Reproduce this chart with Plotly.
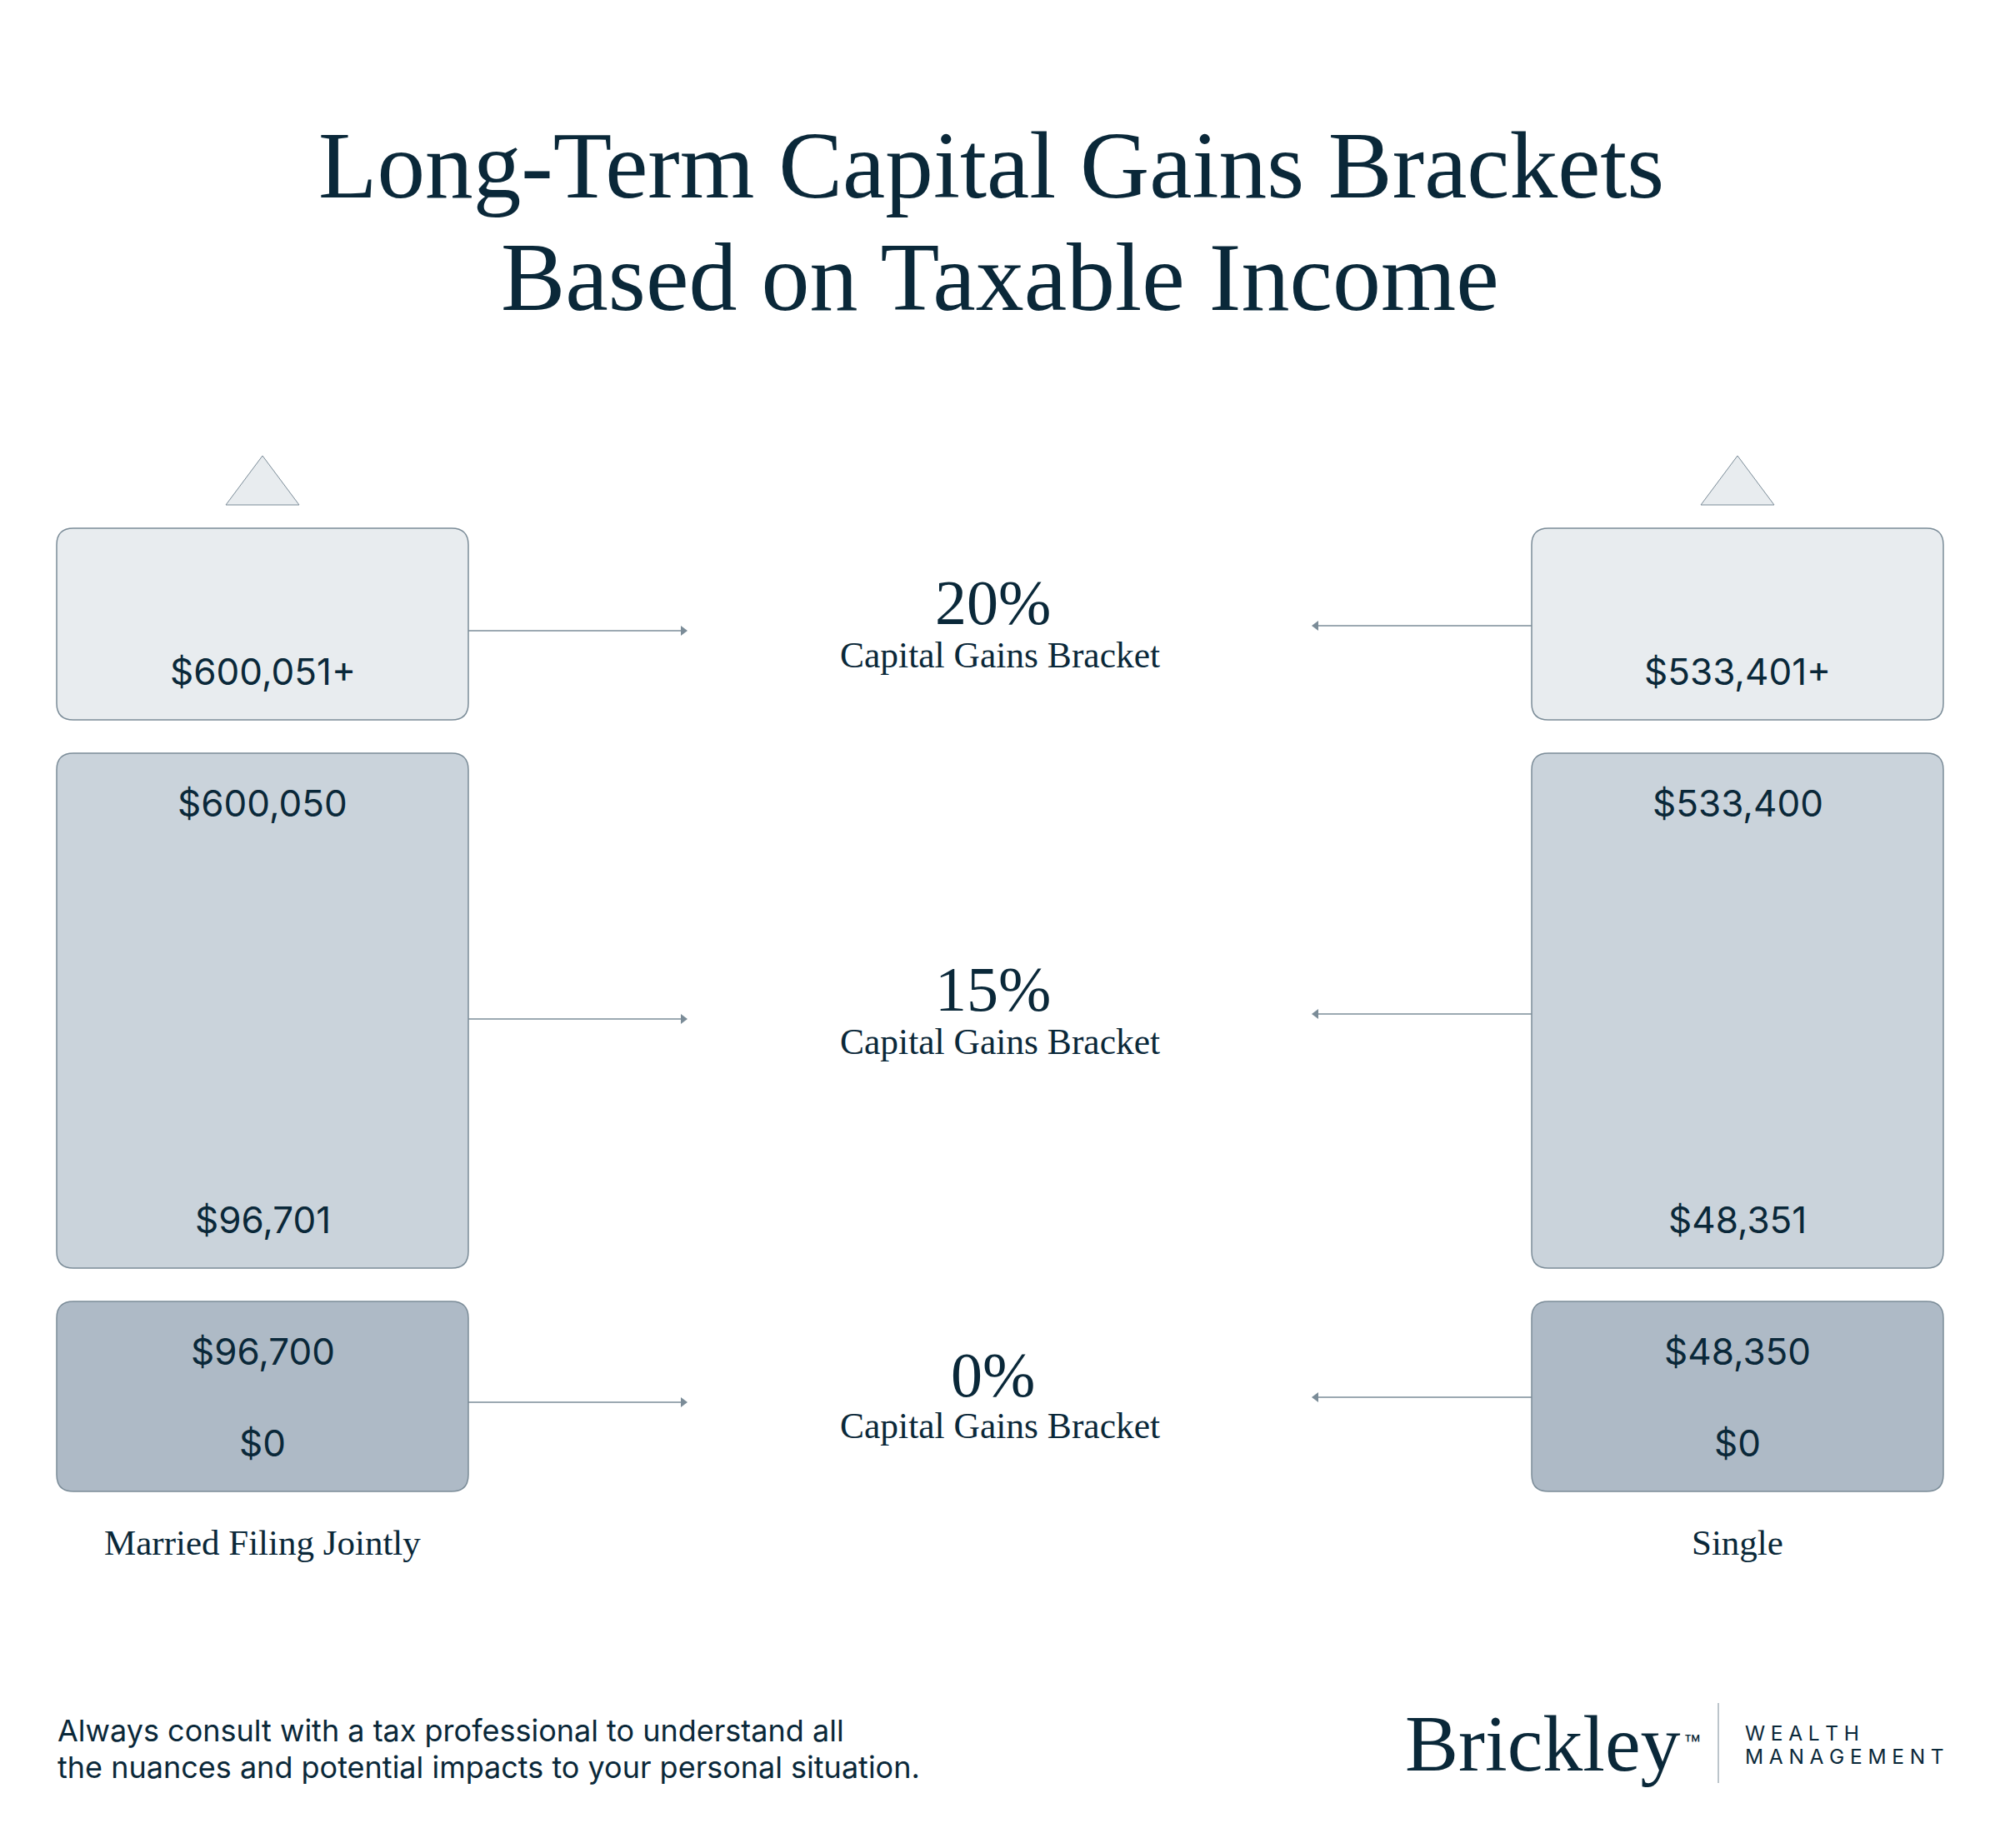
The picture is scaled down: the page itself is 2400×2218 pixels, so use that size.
import plotly.graph_objects as go

# text
title_lines = ["Long-Term Capital Gains Brackets", "Based on Taxable Income"]
rates = ["20%", "15%", "0%"]
rate_caption = "Capital Gains Bracket"
filers = ["Married Filing Jointly", "Single"]
married_upper = ["", "$600,050", "$96,700"]
married_lower = ["$600,051+", "$96,701", "$0"]
single_upper = ["", "$533,400", "$48,350"]
single_lower = ["$533,401+", "$48,351", "$0"]
footnote = [
    "Always consult with a tax professional to understand all",
    "the nuances and potential impacts to your personal situation.",
]

# layout of the page, in pixels
W, H = 2400, 2218
NAVY = "#0a2839"
EDGE = "#7b8c98"
SERIF = "Liberation Serif"
SANS = "Inter"
fills = ["#e8ecef", "#cad3db", "#aebac6"]
box_top = [634, 904, 1562]
box_bottom = [864, 1522, 1790]
columns = [(68, 562), (1838, 2332)]
arrow_y = [[757, 1223, 1683], [751, 1217, 1677]]
arrow_tip = [825, 1574]
upper_y = [0, 964, 1622]
lower_y = [806, 1464, 1732]
rate_y = [723, 1187, 1650]
caption_y = [786, 1250, 1711]


def rounded_box(x0, y0, x1, y1, r=20):
    return (
        f"M{x0 + r},{y0} L{x1 - r},{y0} Q{x1},{y0} {x1},{y0 + r} "
        f"L{x1},{y1 - r} Q{x1},{y1} {x1 - r},{y1} "
        f"L{x0 + r},{y1} Q{x0},{y1} {x0},{y1 - r} "
        f"L{x0},{y0 + r} Q{x0},{y0} {x0 + r},{y0} Z"
    )


def add_text(fig, x, y, text, size, font=SANS, anchor="center"):
    fig.add_annotation(
        x=x, y=y, text=text, showarrow=False, xanchor=anchor, yanchor="middle",
        font=dict(family=font, size=size, color=NAVY),
    )


def spaced(word):
    # letter spacing for the logo, thin plus hair space between letters
    return "\u2009\u200a".join(word)


fig = go.Figure()

for c, (left, right) in enumerate(columns):
    mid = (left + right) / 2
    upper = married_upper if c == 0 else single_upper
    lower = married_lower if c == 0 else single_lower

    # triangle above the column
    fig.add_shape(
        type="path",
        path=f"M{mid},547 L{mid + 44},606 L{mid - 44},606 Z",
        fillcolor=fills[0], line=dict(color=EDGE, width=1),
    )

    for i in range(3):
        fig.add_shape(
            type="path",
            path=rounded_box(left, box_top[i], right, box_bottom[i]),
            fillcolor=fills[i], line=dict(color=EDGE, width=1.5),
        )
        if upper[i]:
            add_text(fig, mid, upper_y[i], upper[i], 44)
        add_text(fig, mid, lower_y[i], lower[i], 44)

        # arrow from the box towards the rate
        y = arrow_y[c][i]
        start = right if c == 0 else left
        tip = arrow_tip[c]
        back = tip - 8 if c == 0 else tip + 8
        fig.add_shape(
            type="line", x0=start, x1=back, y0=y, y1=y,
            line=dict(color=EDGE, width=1.5),
        )
        fig.add_shape(
            type="path",
            path=f"M{tip},{y} L{back},{y - 6} L{back},{y + 6} Z",
            fillcolor=EDGE, line=dict(width=0),
        )

    add_text(fig, mid, 1851, filers[c], 43, SERIF)

for i, rate in enumerate(rates):
    add_text(fig, 1191, rate_y[i], rate, 76, SERIF)
    add_text(fig, 1200, caption_y[i], rate_caption, 43.5, SERIF)

add_text(fig, 1189, 198, title_lines[0], 115.3, SERIF)
add_text(fig, 1200, 333, title_lines[1], 116, SERIF)

add_text(fig, 67, 2077, footnote[0], 36, SANS, "left")
add_text(fig, 67, 2121, footnote[1], 36, SANS, "left")

# logo block
add_text(fig, 1684, 2092, "Brickley", 96, SERIF, "left")
add_text(fig, 2019, 2094, "™", 32, SANS, "left")
fig.add_shape(type="line", x0=2062, x1=2062, y0=2044, y1=2140, line=dict(color=EDGE, width=1))
add_text(fig, 2092, 2080, spaced("WEALTH"), 24.5, SANS, "left")
add_text(fig, 2092, 2108, spaced("MANAGEMENT"), 24.5, SANS, "left")

fig.update_layout(
    width=W, height=H,
    margin=dict(l=0, r=0, t=0, b=0),
    paper_bgcolor="white", plot_bgcolor="white",
    showlegend=False,
    xaxis=dict(range=[0, W], visible=False, fixedrange=True),
    yaxis=dict(range=[H, 0], visible=False, fixedrange=True),
)

fig.write_html(
    "out.html",
    config={"displayModeBar": False},
    post_script="document.body.style.margin = '0';",
)
